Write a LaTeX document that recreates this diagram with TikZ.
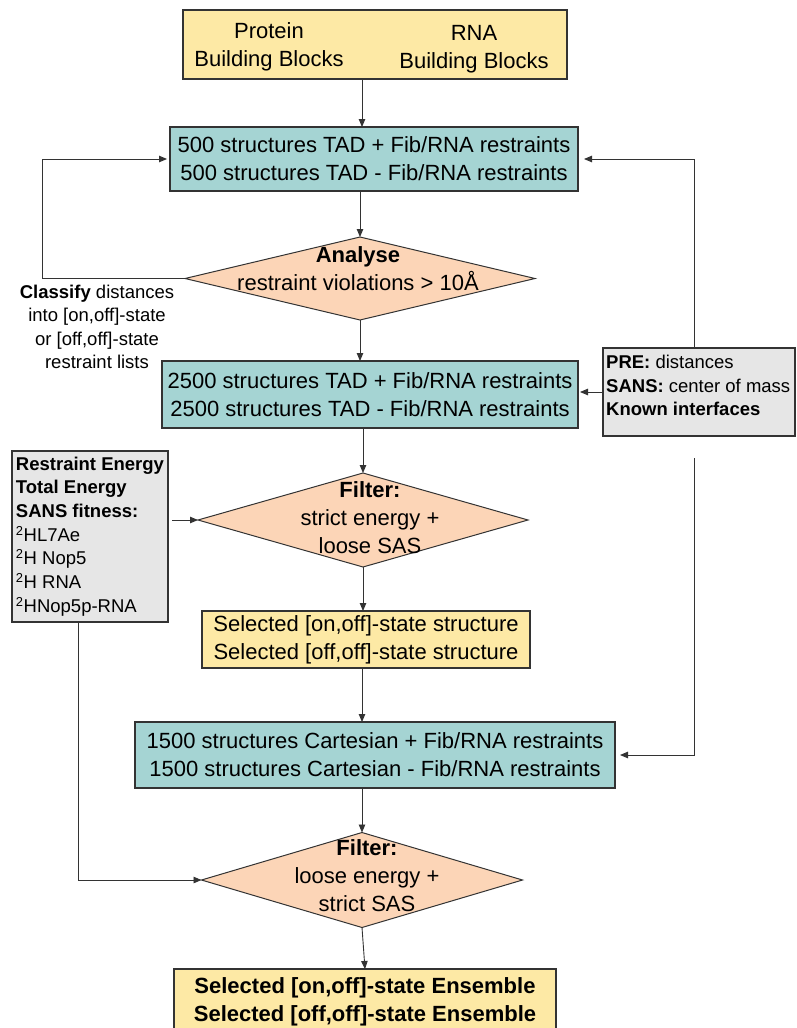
\documentclass[tikz,border=0pt]{standalone}
\usepackage{fontspec}
\setmainfont{Liberation Sans}
\usetikzlibrary{arrows.meta,positioning,calc,shapes.geometric}

\definecolor{boxyellow}{HTML}{FDE9A5}
\definecolor{boxteal}{HTML}{A5D4D3}
\definecolor{boxpeach}{HTML}{FCD5B7}
\definecolor{boxgrey}{HTML}{E6E6E6}
\definecolor{edgegrey}{HTML}{333333}

\tikzset{
  box/.style={draw=edgegrey,line width=1.4pt,inner sep=0pt,outer sep=0pt,align=center,
    font=\fontsize{22}{28}\selectfont},
  dia/.style={diamond,draw=edgegrey,line width=1pt,fill=boxpeach,inner sep=0pt,outer sep=0pt},
  maintxt/.style={inner sep=0pt,align=center,font=\fontsize{22}{28}\selectfont},
  sidetxt/.style={inner sep=0pt,align=center,font=\fontsize{18.5}{23.5}\selectfont},
  arr/.style={-{Triangle[length=8pt,width=6.5pt]},line width=0.9pt,draw=black!80}
}

\begin{document}
\begin{tikzpicture}[x=1pt,y=-1pt]
    \useasboundingbox (0,0) rectangle (796,1028);
    \coordinate (ax) at (362,0);
    \coordinate (loopx) at (42,0);
    \coordinate (fb) at (694,0);
    \coordinate (sx) at (78,0);

    % building blocks
    \node[box,fill=boxyellow,minimum width=384,minimum height=69] (blocks) at (375,44.5) {};
    \node[maintxt] (prot) at (269,47) {Protein\\Building Blocks};
    \node[maintxt] (rna) at (474,49) {RNA\\Building Blocks};

    % main column
    \node[box,fill=boxteal,minimum width=408,minimum height=64] (tad1) at (374,159)
      {500 structures TAD + Fib/RNA restraints\\500 structures TAD - Fib/RNA restraints};
    \node[dia,minimum width=350,minimum height=83] (ana) at (360,278.5) {};
    \node[maintxt] (anatxt) at (358,268.5) {\textbf{Analyse}\\restraint violations > 10Å};
    \node[box,fill=boxteal,minimum width=416,minimum height=67] (tad2) at (370,394.5)
      {2500 structures TAD + Fib/RNA restraints\\2500 structures TAD - Fib/RNA restraints};
    \node[dia,minimum width=330,minimum height=94] (flt1) at (363,520) {};
    \node[maintxt] (flt1txt) at (370,517.5) {\textbf{Filter:}\\strict energy +\\loose SAS};
    \node[box,fill=boxyellow,minimum width=328,minimum height=57] (sel) at (366,639.5)
      {Selected [on,off]-state structure\\Selected [off,off]-state structure};
    \node[box,fill=boxteal,minimum width=480,minimum height=66] (cart) at (375,755)
      {1500 structures Cartesian + Fib/RNA restraints\\1500 structures Cartesian - Fib/RNA restraints};
    \node[dia,minimum width=321,minimum height=95] (flt2) at (362,880) {};
    \node[maintxt] (flt2txt) at (367,876) {\textbf{Filter:}\\loose energy +\\strict SAS};
    \node[box,fill=boxyellow,minimum width=382,minimum height=66] (fin) at (365,1002)
      {\textbf{Selected [on,off]-state Ensemble}\\\textbf{Selected [off,off]-state Ensemble}};

    % side boxes and label
    \node[sidetxt] (classify) at (97,327)
      {\textbf{Classify} distances\\into [on,off]-state\\or [off,off]-state\\restraint lists};
    \node[box,fill=boxgrey,minimum width=192,minimum height=88] (pre) at (699,392) {};
    \node[sidetxt,align=left,anchor=north west] (pretxt) at (606,355)
      {\textbf{PRE:} distances\\\textbf{SANS:} center of mass\\\textbf{Known interfaces}};
    \node[box,fill=boxgrey,minimum width=156,minimum height=171,align=left,
      font=\fontsize{18.5}{23.7}\selectfont] (fit) at (90,536.5)
      {\textbf{Restraint Energy}\\\textbf{Total Energy}\\\textbf{SANS fitness:}\\
       \textsuperscript{2}HL7Ae\\\textsuperscript{2}H Nop5\\\textsuperscript{2}H RNA\\
       \textsuperscript{2}HNop5p-RNA};

    % connectors
    \draw[arr] (blocks.south -| ax) -- (tad1.north -| ax);
    \draw[arr] (tad1.south -| ana.north) -- (ana.north);
    \draw[arr] (ana.south) -- (tad2.north -| ana.south);
    \draw[arr] (tad2.south -| flt1.north) -- (flt1.north);
    \draw[arr] (flt1.south) -- (sel.north -| flt1.south);
    \draw[arr] (sel.south -| ax) -- (cart.north -| ax);
    \draw[arr] (cart.south -| flt2.north) -- (flt2.north);
    \draw[arr] (flt2.south) -- (fin.north);

    \draw[arr,shorten >=3pt] (ana.west) -- (ana.west -| loopx) |- (tad1.west);
    \draw[arr,shorten >=6pt] (pre.north -| fb) |- (tad1.east);
    \draw[arr,shorten >=2pt] (pre.west) -- (pre.west -| tad2.east);
    \draw[arr,shorten >=5pt] ($(pre.south -| fb)+(0,22)$) |- (cart.east);
    \draw[arr,shorten <=4pt] (flt1.west -| fit.east) -- (flt1.west);
    \draw[arr] (fit.south -| sx) |- (flt2.west);
\end{tikzpicture}
\end{document}
